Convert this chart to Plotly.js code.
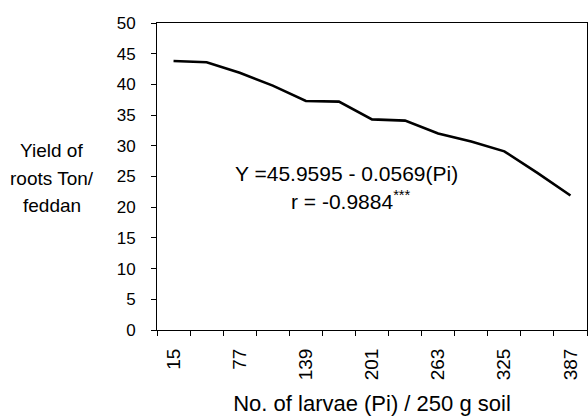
<!DOCTYPE html>
<html>
<head>
<meta charset="utf-8">
<script src="https://cdn.plot.ly/plotly-3.0.1.min.js"></script>
<style>html,body{margin:0;padding:0;background:#fff;}#chart{width:588px;height:416px;}</style>
</head>
<body>
<div id="chart"></div>
<script>
// Larvae per 250 g soil (Pi) and yield of roots (Ton/feddan)
const larvae = [15, 46, 77, 108, 139, 170, 201, 232, 263, 294, 325, 356, 387];
const yieldTon = [43.8, 43.6, 41.9, 39.8, 37.3, 37.2, 34.3, 34.1, 32.0, 30.7, 29.1, 25.6, 21.9];
const labelledTicks = [15, 77, 139, 201, 263, 325, 387];
const yTitleLines = ["Yield of", "roots Ton/", "feddan"];
const equationText = "Y =45.9595 - 0.0569(Pi)";
const rText = "r = -0.9884<sup>***</sup>";
const xTitle = "No. of larvae (Pi) / 250 g soil";

const step = larvae[1] - larvae[0];
const font = "Liberation Sans, Arial, sans-serif";

const trace = {
  x: larvae, y: yieldTon, type: 'scatter', mode: 'lines',
  line: {color: '#000', width: 2.6}, hoverinfo: 'skip'
};

const annotations = yTitleLines.map((t, i) => ({
  text: t, xref: 'paper', yref: 'paper', x: -0.245, y: [0.584, 0.494, 0.407][i],
  xanchor: 'center', yanchor: 'middle', showarrow: false,
  font: {family: font, size: 19, color: '#000'}
}));
annotations.push({
  text: equationText, xref: 'paper', yref: 'paper', x: 0.44, y: 0.51,
  xanchor: 'center', yanchor: 'middle', showarrow: false,
  font: {family: font, size: 21, color: '#000'}
});
annotations.push({
  text: rText, xref: 'paper', yref: 'paper', x: 0.452, y: 0.425,
  xanchor: 'center', yanchor: 'middle', showarrow: false,
  font: {family: font, size: 21, color: '#000'}
});

const layout = {
  width: 588, height: 416,
  margin: {l: 157, r: 1, t: 23, b: 86},
  paper_bgcolor: '#fff', plot_bgcolor: '#fff',
  showlegend: false,
  font: {family: font, color: '#000'},
  xaxis: {
    type: 'linear',
    range: [larvae[0] - step / 2, larvae[larvae.length - 1] + step / 2],
    tickmode: 'array', tickvals: labelledTicks, ticktext: labelledTicks.map(String),
    ticks: '', tickangle: -90, ticklabelstandoff: 10,
    tickfont: {family: font, size: 19, color: '#000'},
    minor: {ticks: 'outside', ticklen: 5, tickcolor: '#000', tick0: larvae[0] - step / 2, dtick: step, showgrid: false},
    showline: true, linecolor: '#000', linewidth: 1, mirror: true,
    showgrid: false, zeroline: false,
    title: {text: xTitle, font: {family: font, size: 22, color: '#000'}, standoff: 17}
  },
  yaxis: {
    range: [0, 50], dtick: 5, tick0: 0,
    ticks: 'outside', ticklen: 5, tickcolor: '#000', ticklabelstandoff: 12,
    tickfont: {family: font, size: 17, color: '#000'},
    showline: true, linecolor: '#000', linewidth: 1, mirror: true,
    showgrid: false, zeroline: false
  },
  annotations: annotations
};

Plotly.newPlot('chart', [trace], layout, {displayModeBar: false, staticPlot: true});
</script>
</body>
</html>
